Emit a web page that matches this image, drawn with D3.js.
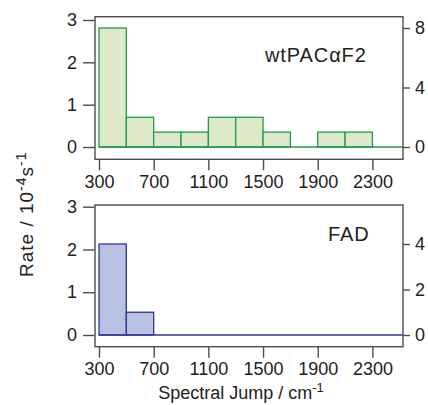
<!DOCTYPE html>
<html><head><meta charset="utf-8">
<script src="https://cdn.jsdelivr.net/npm/d3@7"></script>
<style>
body{margin:0;background:#fff;}
text{font-family:"Liberation Sans",Arial,Helvetica,sans-serif;fill:#222;}
</style></head>
<body>
<svg id="c" width="428" height="405"></svg>
<script>
// ---- data ----
const binEdges = [300,500,700,900,1100,1300,1500,1700,1900,2100,2300,2500];
const countsWT = [8,2,1,1,2,2,1,0,1,1,0];
const countsFAD = [4,1,0,0,0,0,0,0,0,0,0];
const xTicks = [300,700,1100,1500,1900,2300];
const rateTicks = [0,1,2,3];
const countTicksWT = [0,4,8];
const countTicksFAD = [0,2,4];
const labelWT = "wtPACαF2";
const labelFAD = "FAD";

const svg = d3.select("#c");
const frameL = 95, frameR = 403;
const x = d3.scaleLinear().domain([300,2300]).range([99,372.4]);
const xMax = x.invert(frameR);

const panels = [
  {counts:countsWT, cTicks:countTicksWT, label:labelWT, top:16.7, bottom:159.3,
   rate:d3.scaleLinear().domain([0,3]).range([147,20]),
   cnt:d3.scaleLinear().domain([0,8]).range([147,28]),
   fill:"#dde9c9", stroke:"#1f9a4f", lx:265, ly:61.7},
  {counts:countsFAD, cTicks:countTicksFAD, label:labelFAD, top:205, bottom:346.7,
   rate:d3.scaleLinear().domain([0,3]).range([335,206.7]),
   cnt:d3.scaleLinear().domain([0,4]).range([335,244]),
   fill:"#b9c1e2", stroke:"#2e3894", lx:328, ly:241}
];

const axisColor = "#4d4d4d";
function styleAxis(g){
  g.select(".domain").remove();
  g.selectAll(".tick line").attr("stroke",axisColor).attr("stroke-width",1.4);
  g.selectAll(".tick text").attr("font-size",18).attr("fill","#222")
   .style("font-family",'"Liberation Sans",Arial,sans-serif');
}

panels.forEach(p=>{
  const g = svg.append("g");
  // bars
  const bins = p.counts.map((c,i)=>({x0:binEdges[i],x1:binEdges[i+1],c}));
  g.selectAll("rect.bar").data(bins.filter(b=>b.c>0)).join("rect")
    .attr("class","bar")
    .attr("x",d=>x(d.x0)).attr("width",d=>x(d.x1)-x(d.x0))
    .attr("y",d=>p.cnt(d.c)).attr("height",d=>p.cnt(0)-p.cnt(d.c))
    .attr("fill",p.fill).attr("stroke",p.stroke).attr("stroke-width",1.3);
  // baseline
  g.append("line").attr("x1",x(300)).attr("x2",x(xMax))
    .attr("y1",p.cnt(0)).attr("y2",p.cnt(0))
    .attr("stroke",p.stroke).attr("stroke-width",1.3);
  // frame
  g.append("rect").attr("x",frameL).attr("y",p.top)
    .attr("width",frameR-frameL).attr("height",p.bottom-p.top)
    .attr("fill","none").attr("stroke",axisColor).attr("stroke-width",1.4);
  // axes
  g.append("g").attr("transform",`translate(${frameL},0)`)
    .call(d3.axisLeft(p.rate).tickValues(rateTicks).tickFormat(d3.format("d")).tickSize(12).tickPadding(6))
    .call(styleAxis);
  g.append("g").attr("transform",`translate(${frameR},0)`)
    .call(d3.axisRight(p.cnt).tickValues(p.cTicks).tickFormat(d3.format("d")).tickSize(7).tickPadding(5))
    .call(styleAxis);
  g.append("g").attr("transform",`translate(0,${p.bottom})`)
    .call(d3.axisBottom(x).tickValues(xTicks).tickFormat(d3.format("d")).tickSize(11).tickPadding(5))
    .call(styleAxis);
  // label
  g.append("text").attr("x",p.lx).attr("y",p.ly).attr("font-size",20)
    .attr("letter-spacing",0.9).text(p.label);
});

// x label
const xl = svg.append("text").attr("x",241).attr("y",399).attr("text-anchor","middle").attr("font-size",18);
xl.append("tspan").text("Spectral Jump / cm");
xl.append("tspan").attr("dy",-7).attr("font-size",13).text("-1");

// y label
const yl = svg.append("text").attr("transform","translate(33,277) rotate(-90)")
  .attr("text-anchor","start").attr("font-size",19).attr("letter-spacing",1);
yl.append("tspan").text("Rate / 10");
yl.append("tspan").attr("dy",-7).attr("font-size",14).text("-4");
yl.append("tspan").attr("dy",7).text("s");
yl.append("tspan").attr("dy",-7).attr("font-size",14).text("-1");
</script>
</body></html>
